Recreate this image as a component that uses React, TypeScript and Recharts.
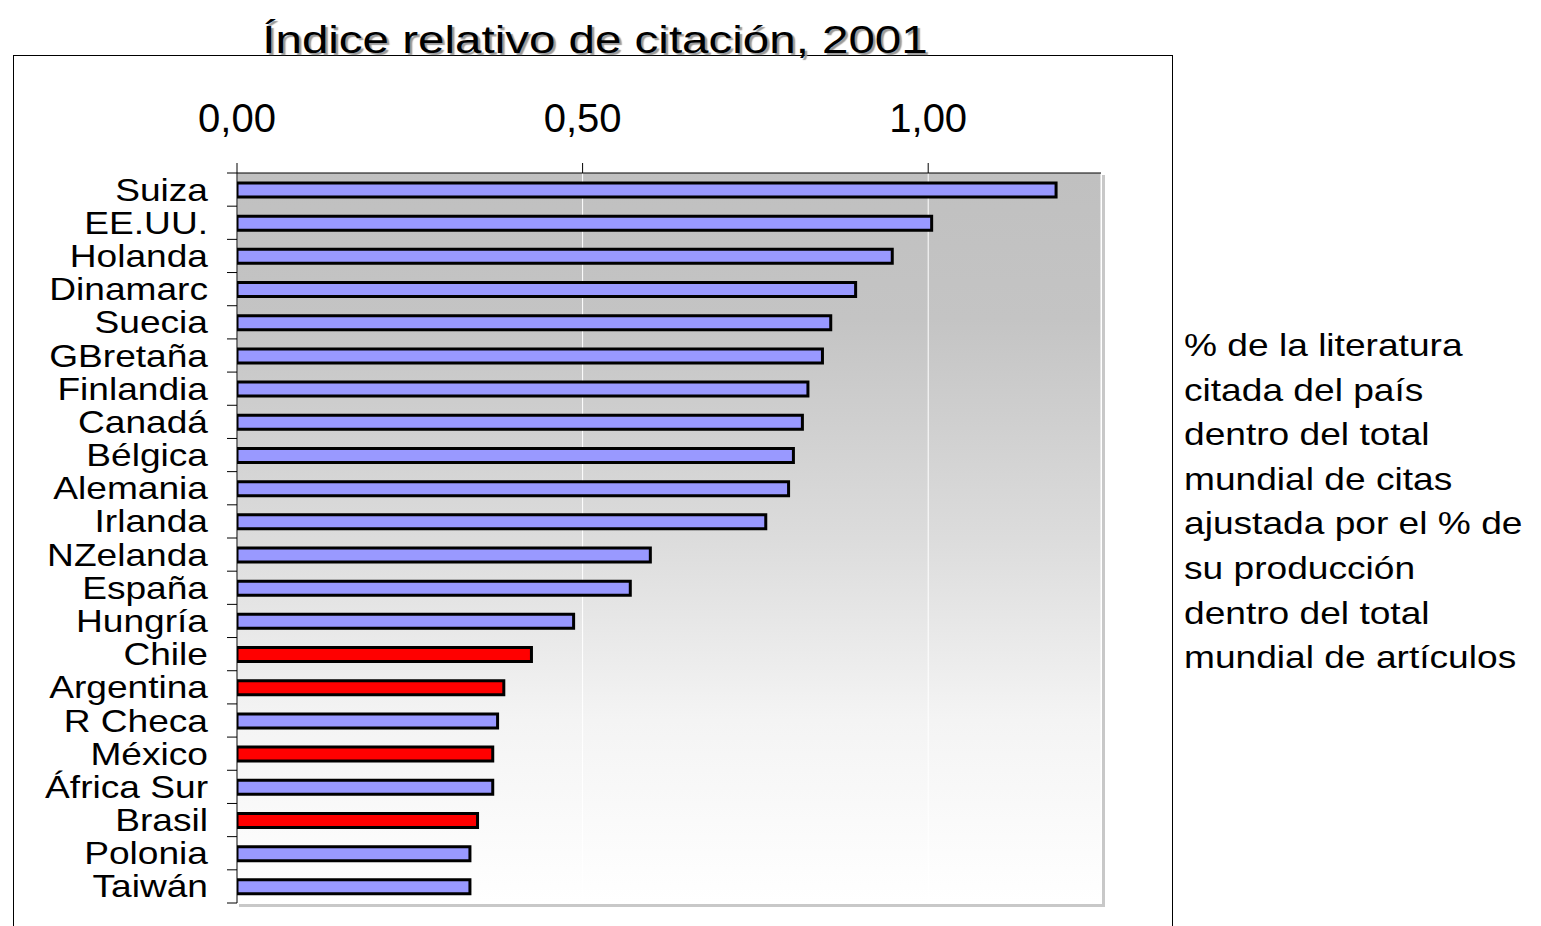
import React from "react";
import { BarChart, Bar, XAxis, YAxis, CartesianGrid, Cell } from "recharts";

const countries = [
  "Suiza", "EE.UU.", "Holanda", "Dinamarc", "Suecia", "GBretaña", "Finlandia", "Canadá",
  "Bélgica", "Alemania", "Irlanda", "NZelanda", "España", "Hungría", "Chile", "Argentina",
  "R Checa", "México", "África Sur", "Brasil", "Polonia", "Taiwán",
];
const citationIndex = [
  1.185, 1.005, 0.948, 0.895, 0.859, 0.847, 0.826, 0.818, 0.805, 0.798, 0.765,
  0.598, 0.569, 0.487, 0.426, 0.386, 0.377, 0.37, 0.37, 0.348, 0.337, 0.337,
];
const latinAmerica = ["Chile", "Argentina", "México", "Brasil"];
const xTicks = [0, 0.5, 1];
const xMax = 1.25;
const title = "Índice relativo de citación, 2001";
const noteLines = [
  "% de la literatura",
  "citada del país",
  "dentro del total",
  "mundial de citas",
  "ajustada por el % de",
  "su producción",
  "dentro del total",
  "mundial de artículos",
];

const data = countries.map((name, i) => ({ name, value: citationIndex[i] }));

const W = 1541;
const H = 926;
const margin = { top: 0, right: 440, bottom: 23, left: 0 };
const yAxisWidth = 237;
const xAxisHeight = 173;
const plotX = margin.left + yAxisWidth;
const plotY = margin.top + xAxisHeight;
const plotW = W - margin.left - margin.right - yAxisWidth;
const plotH = H - margin.top - margin.bottom - xAxisHeight;
const band = plotH / countries.length;
const FONT = '"Liberation Sans", Arial, sans-serif';

const fmt = (v: number) => v.toFixed(2).replace(".", ",");

function TopTick(props: any) {
  const { x, y, payload } = props;
  return (
    <text x={x} y={y - 31} textAnchor="middle" fontSize={40} fontFamily={FONT} fill="#000">
      {fmt(payload.value)}
    </text>
  );
}

function CountryTick(props: any) {
  const { x, y, payload, index } = props;
  const last = index === countries.length - 1;
  return (
    <g>
      <line x1={x - 10} x2={x} y1={y - band / 2} y2={y - band / 2} stroke="#000" />
      {last && <line x1={x - 10} x2={x} y1={y + band / 2} y2={y + band / 2} stroke="#000" />}
      <text
        transform={`translate(${x - 29},${y + 11}) scale(1.16,1)`}
        textAnchor="end"
        fontSize={32}
        fontFamily={FONT}
        fill="#000"
      >
        {payload.value}
      </text>
    </g>
  );
}

// gradient for the plot background + the little drop shadow on its right/bottom edge
function PlotDecor() {
  return (
    <g>
      <defs>
        <linearGradient id="plotBg" x1="0" y1="0" x2="0" y2="1">
          <stop offset="0%" stopColor="#c0c0c0" />
          <stop offset="20%" stopColor="#c4c4c4" />
          <stop offset="50%" stopColor="#dcdcdc" />
          <stop offset="75%" stopColor="#f4f4f4" />
          <stop offset="100%" stopColor="#ffffff" />
        </linearGradient>
      </defs>
      <rect x={plotX + plotW + 1} y={plotY + 2} width={3} height={plotH + 1} fill="#c8c8c8" />
      <rect x={plotX + 2} y={plotY + plotH + 1} width={plotW + 2} height={3} fill="#c8c8c8" />
    </g>
  );
}

export default function App() {
  return (
    <div style={{ position: "absolute", left: 0, top: 0, width: W, height: H, overflow: "hidden", background: "#fff" }}>
      <div
        style={{
          position: "absolute",
          left: 13,
          top: 55,
          width: 1158,
          height: 880,
          border: "1px solid #000",
          borderBottom: "none",
        }}
      />
      <div style={{ position: "absolute", left: 0, top: 0 }}>
        <BarChart width={W} height={H} data={data} layout="vertical" margin={margin}>
          <PlotDecor />
          <CartesianGrid horizontal={false} vertical stroke="#ffffff" fill="url(#plotBg)" fillOpacity={1} />
          <XAxis
            type="number"
            orientation="top"
            domain={[0, xMax]}
            ticks={xTicks}
            height={xAxisHeight}
            tickSize={10}
            tickMargin={0}
            axisLine={{ stroke: "#000" }}
            tickLine={{ stroke: "#000" }}
            tick={<TopTick />}
            allowDataOverflow
          />
          <YAxis
            type="category"
            dataKey="name"
            width={yAxisWidth}
            tickSize={0}
            tickMargin={0}
            tickLine={false}
            axisLine={{ stroke: "#000" }}
            tick={<CountryTick />}
            interval={0}
          />
          <Bar dataKey="value" barSize={14} stroke="#000" strokeWidth={3} isAnimationActive={false}>
            {data.map((d) => (
              <Cell key={d.name} fill={latinAmerica.includes(d.name) ? "#ff0000" : "#9999ff"} />
            ))}
          </Bar>
        </BarChart>
      </div>
      <div
        style={{
          position: "absolute",
          left: 0,
          top: 21,
          width: 1190,
          textAlign: "center",
          fontFamily: FONT,
          fontSize: 38,
          lineHeight: "38px",
          whiteSpace: "pre",
          transform: "scaleX(1.25)",
          transformOrigin: "595px 0",
          textShadow: "2px 2px 1px #9a9a9a",
          color: "#000",
        }}
      >
        {title}
      </div>
      <div
        style={{
          position: "absolute",
          left: 1184,
          top: 323,
          fontFamily: FONT,
          fontSize: 32,
          lineHeight: "44.6px",
          whiteSpace: "pre",
          transform: "scaleX(1.16)",
          transformOrigin: "0 0",
          color: "#000",
        }}
      >
        {noteLines.map((l, i) => (
          <div key={i}>{l}</div>
        ))}
      </div>
    </div>
  );
}
